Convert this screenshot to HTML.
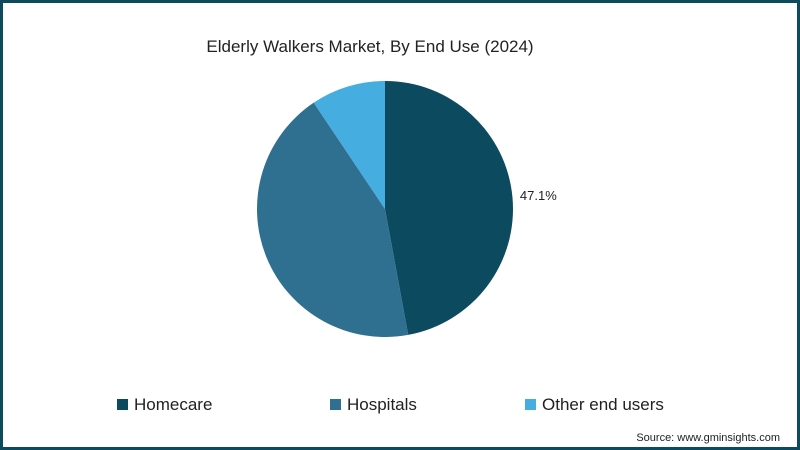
<!DOCTYPE html>
<html>
<head>
<meta charset="utf-8">
<style>
  html,body{margin:0;padding:0;}
  body{width:800px;height:450px;overflow:hidden;background:#fff;font-family:"Liberation Sans",sans-serif;}
  #frame{position:absolute;left:0;top:0;width:794px;height:444px;border:3px solid #0d4a5c;background:#fff;}
</style>
</head>
<body>
<div id="frame"></div>
<svg id="chart" width="800" height="450" style="position:absolute;left:0;top:0">
  <text x="370" y="52" text-anchor="middle" font-size="17" fill="#222">Elderly Walkers Market, By End Use (2024)</text>
  <g id="slices"></g>
  <g id="legend"></g>
  <text x="780" y="441" text-anchor="end" font-size="11" fill="#222">Source: www.gminsights.com</text>
</svg>
<script>
const categories = ["Homecare", "Hospitals", "Other end users"];
const values = [47.1, 43.5, 9.4];
const labels = ["47.1%", "", ""];
const colors = ["#0b4a5f", "#2f6f8f", "#46ade0"];

const cx = 385, cy = 209, r = 128;
const svgNS = "http://www.w3.org/2000/svg";
const g = document.getElementById("slices");
const total = values.reduce((a, b) => a + b, 0);
let start = 0;
function pt(a, rad) { return [cx + rad * Math.sin(a), cy - rad * Math.cos(a)]; }
values.forEach((v, i) => {
  const a0 = start / total * 2 * Math.PI;
  const a1 = (start + v) / total * 2 * Math.PI;
  const p0 = pt(a0, r), p1 = pt(a1, r);
  const large = (a1 - a0) > Math.PI ? 1 : 0;
  const path = document.createElementNS(svgNS, "path");
  path.setAttribute("d", `M${cx},${cy} L${p0[0]},${p0[1]} A${r},${r} 0 ${large} 1 ${p1[0]},${p1[1]} Z`);
  path.setAttribute("fill", colors[i]);
  
  
  g.appendChild(path);
  if (labels[i]) {
    const am = (a0 + a1) / 2;
    const lp = pt(am, r + 26);
    const t = document.createElementNS(svgNS, "text");
    t.setAttribute("x", lp[0]);
    t.setAttribute("y", lp[1] + 5);
    t.setAttribute("text-anchor", "middle");
    t.setAttribute("font-size", "13");
    t.setAttribute("fill", "#222");
    t.textContent = labels[i];
    
    
    g.appendChild(t);
  }
  start += v;
});

const lg = document.getElementById("legend");
const lx = [117, 330, 525];
categories.forEach((c, i) => {
  const rect = document.createElementNS(svgNS, "rect");
  rect.setAttribute("x", lx[i]); rect.setAttribute("y", 399);
  rect.setAttribute("width", 11); rect.setAttribute("height", 11);
  rect.setAttribute("fill", colors[i]);
  
  
  lg.appendChild(rect);
  const t = document.createElementNS(svgNS, "text");
  t.setAttribute("x", lx[i] + 17); t.setAttribute("y", 410);
  t.setAttribute("font-size", "17"); t.setAttribute("fill", "#222");
  t.textContent = c;
  
  
  lg.appendChild(t);
});
</script>
</body>
</html>
